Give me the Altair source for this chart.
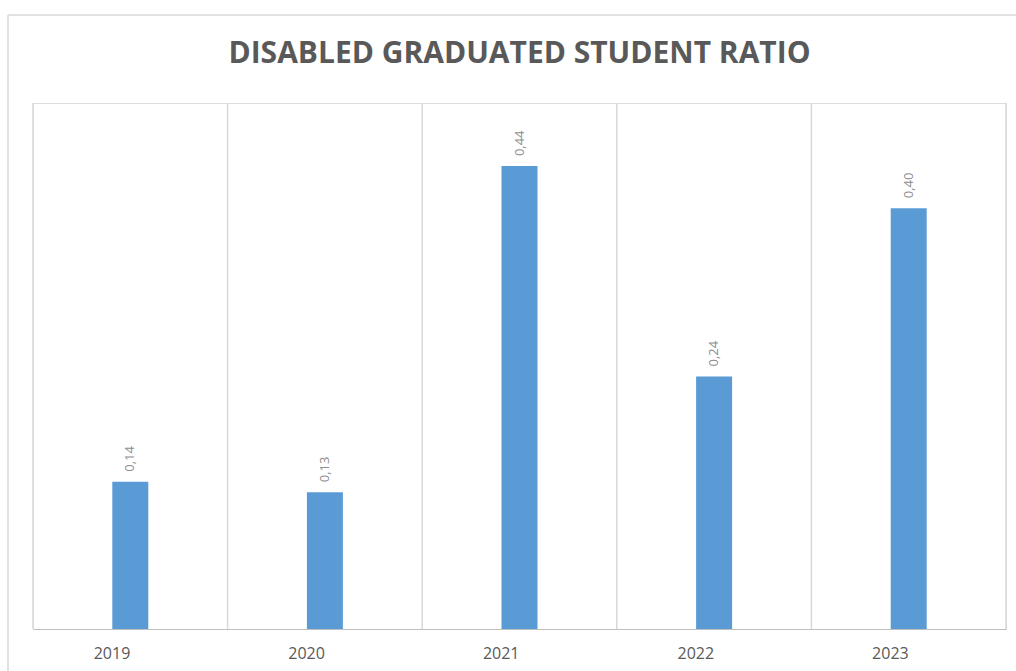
import altair as alt
import pandas as pd

years = ["2019", "2020", "2021", "2022", "2023"]
ratios = [0.14, 0.13, 0.44, 0.24, 0.40]

df = pd.DataFrame({"year": years, "ratio": ratios})
last = pd.DataFrame({"year": [years[-1]]})

W, H = 973, 526
GRID = "#d9d9d9"
BLUE = "#5B9BD5"

xenc = alt.X("year:N", sort=years,
             scale=alt.Scale(paddingInner=0, paddingOuter=0),
             axis=alt.Axis(title=None, labelAngle=0, ticks=False, grid=False,
                           domain=True, domainColor="#bfbfbf", domainWidth=1,
                           labelFont="Open Sans", labelFontSize=16, labelColor="#595959",
                           labelPadding=24))
yenc = alt.Y("ratio:Q", scale=alt.Scale(domain=[0, 0.5]), axis=None)

base = alt.Chart(df)

grid_left = base.mark_rule(color=GRID, strokeWidth=1.5).encode(
    x=alt.X("year:N", sort=years, bandPosition=0),
    y=alt.value(0), y2=alt.value(H))
grid_right = alt.Chart(last).mark_rule(color=GRID, strokeWidth=1.5).encode(
    x=alt.X("year:N", sort=years, bandPosition=1),
    y=alt.value(0), y2=alt.value(H))

bars = base.mark_bar(color=BLUE, width=alt.RelativeBandSize(0.185)).encode(x=xenc, y=yenc)

labels = base.transform_calculate(
    lbl="replace(format(datum.ratio, '.2f'), '.', ',')"
).mark_text(angle=270, align="left", baseline="middle", dx=10,
            font="Open Sans", fontSize=13, color="#8c8c8c").encode(
    x=alt.X("year:N", sort=years), y=yenc, text="lbl:N")

frame_top = alt.Chart(last).mark_rule(color="#d9d9d9", strokeWidth=1.5).encode(
    x=alt.value(-25), x2=alt.value(W + 40), y=alt.value(-88))
frame_left = alt.Chart(last).mark_rule(color="#d9d9d9", strokeWidth=1.5).encode(
    x=alt.value(-25), y=alt.value(-88), y2=alt.value(H + 60))

chart = alt.layer(frame_top, frame_left, grid_left, grid_right, bars, labels).properties(
    width=W, height=H,
    title=alt.TitleParams("DISABLED GRADUATED STUDENT RATIO", font="Open Sans",
                          fontSize=30, fontWeight="bold", color="#595959",
                          anchor="middle", frame="group", offset=0, dy=55),
    autosize=alt.AutoSizeParams(type="none"),
    padding={"left": 33, "top": 103, "right": 10, "bottom": 42},
).configure_view(stroke=None).configure(background="white")

chart.save("out.html", embed_options={"renderer": "svg", "actions": False})
